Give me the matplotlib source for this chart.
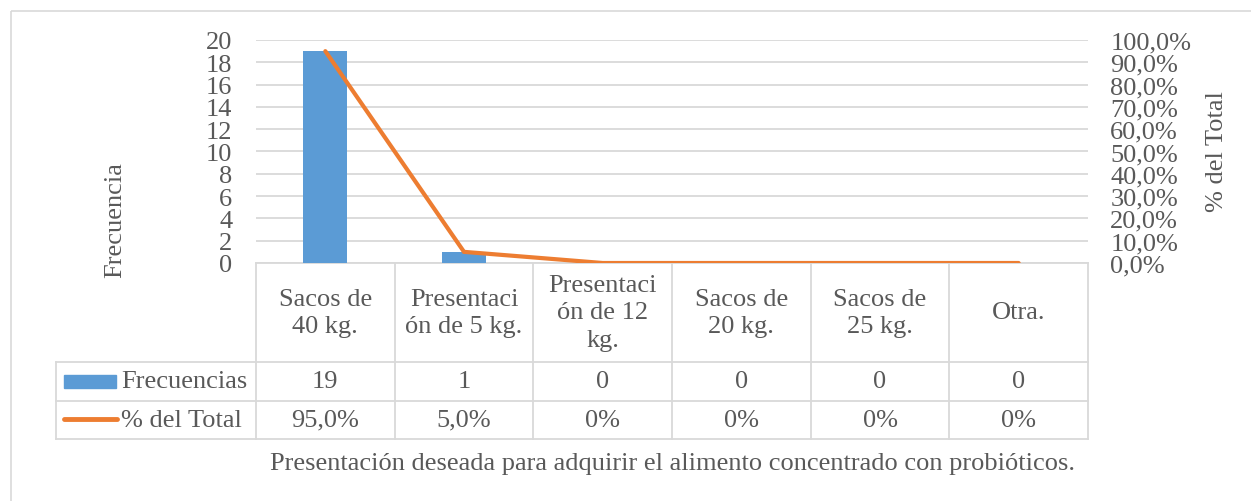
import matplotlib
matplotlib.use("Agg")
import matplotlib.pyplot as plt
from matplotlib.patches import Rectangle
from matplotlib.lines import Line2D

# ---- data ----
categories = ["Sacos de\n40 kg.", "Presentaci\nón de 5 kg.", "Presentaci\nón de 12\nkg.",
              "Sacos de\n20 kg.", "Sacos de\n25 kg.", "Otra."]
frecuencias = [19, 1, 0, 0, 0, 0]
pct_total = [0.95, 0.05, 0.0, 0.0, 0.0, 0.0]
freq_labels = ["19", "1", "0", "0", "0", "0"]
pct_labels = ["95,0%", "5,0%", "0%", "0%", "0%", "0%"]
left_ticks = list(range(0, 21, 2))
right_ticks = [i / 10 for i in range(0, 11)]
series_names = ["Frecuencias", "% del Total"]
xlabel = "Presentación deseada para adquirir el alimento concentrado con probióticos."
ylabel_left = "Frecuencia"
ylabel_right = "% del Total"

W, H = 1251, 502
BLUE = "#5B9BD5"
ORANGE = "#ED7D31"
GRID = "#D9D9D9"
TXT = "#595959"
FS = 19

plt.rcParams['font.family'] = ['Liberation Serif', 'DejaVu Serif']

fig = plt.figure(figsize=(W / 100, H / 100), dpi=100)

# overlay in pixel coords (y down)
ov = fig.add_axes([0, 0, 1, 1], zorder=0)
ov.set_xlim(0, W)
ov.set_ylim(H, 0)
ov.axis("off")

# outer chart border
ov.add_patch(Rectangle((11, 12), 1300, 600, fill=False, edgecolor=GRID, lw=1.2))

px_l, px_r, px_t, px_b = 256, 1088, 41, 264
ax = fig.add_axes([px_l / W, 1 - px_b / H, (px_r - px_l) / W, (px_b - px_t) / H], zorder=2)
ax.patch.set_alpha(0)
n = len(categories)
x = list(range(n))
ax.bar(x, frecuencias, width=0.317, color=BLUE, zorder=3)
ax.set_xlim(-0.5, n - 0.5)
ax.set_ylim(0, 20)
ax.set_yticks(left_ticks)
ax.set_yticklabels([str(t) for t in left_ticks])
ax.tick_params(axis='y', length=0, pad=17, labelsize=FS, labelcolor=TXT)
ax.set_xticks([])
for s in ax.spines.values():
    s.set_visible(False)
ax.yaxis.grid(True, color=GRID, lw=1.3, zorder=0)
ax.set_axisbelow(True)

ax2 = ax.twinx()
ax2.plot(x, pct_total, color=ORANGE, lw=3, solid_capstyle='round', solid_joinstyle='miter', zorder=4)
ax2.set_ylim(0, 1)
ax2.set_yticks(right_ticks)
ax2.set_yticklabels([f"{t*100:.1f}%".replace('.', ',') for t in right_ticks])
ax2.tick_params(axis='y', length=0, pad=16, labelsize=FS, labelcolor=TXT)
for s in ax2.spines.values():
    s.set_visible(False)

# axis titles
ov.text(115, 220, ylabel_left, rotation=90, ha='center', va='center', fontsize=FS, color=TXT)
ov.text(1217, 152, ylabel_right, rotation=90, ha='center', va='center', fontsize=FS, color=TXT)

# ---- data table ----
fig.canvas.draw()
def col_px(v):
    return ax.transData.transform((v, 0))[0]

edges = [col_px(i - 0.5) for i in range(n + 1)]
centers = [col_px(i) for i in range(n)]
row_y = [264, 363, 401.7, 440]
tbl_left = 56
lkw = dict(color=GRID, lw=1.3)

ov.plot([edges[0], edges[-1]], [row_y[0]] * 2, **lkw)
for e in edges:
    ov.plot([e, e], [row_y[0], row_y[3]], **lkw)
for yy in row_y[1:]:
    ov.plot([tbl_left, edges[-1]], [yy, yy], **lkw)
ov.plot([tbl_left, tbl_left], [row_y[1], row_y[3]], **lkw)

hdr_c = (row_y[0] + row_y[1]) / 2
r1_c = (row_y[1] + row_y[2]) / 2
r2_c = (row_y[2] + row_y[3]) / 2
for c, lab in zip(centers, categories):
    ov.text(c, hdr_c, lab, ha='center', va='center', fontsize=FS, color=TXT, linespacing=1.3)
for c, lab in zip(centers, freq_labels):
    ov.text(c, r1_c, lab, ha='center', va='center', fontsize=FS, color=TXT)
for c, lab in zip(centers, pct_labels):
    ov.text(c, r2_c, lab, ha='center', va='center', fontsize=FS, color=TXT)

# legend keys in table
ov.add_patch(Rectangle((64, r1_c - 6.5), 52, 13, color=BLUE))
ov.add_line(Line2D([64, 117], [r2_c - 1, r2_c - 1], color=ORANGE, lw=3.5, solid_capstyle='round'))
ov.text(121, r1_c, series_names[0], ha='left', va='center', fontsize=FS, color=TXT)
ov.text(121, r2_c, series_names[1], ha='left', va='center', fontsize=FS, color=TXT)

ov.text((px_l + px_r) / 2, 464, xlabel, ha='center', va='center', fontsize=FS, color=TXT)

fig.savefig("out.png", dpi=100)
